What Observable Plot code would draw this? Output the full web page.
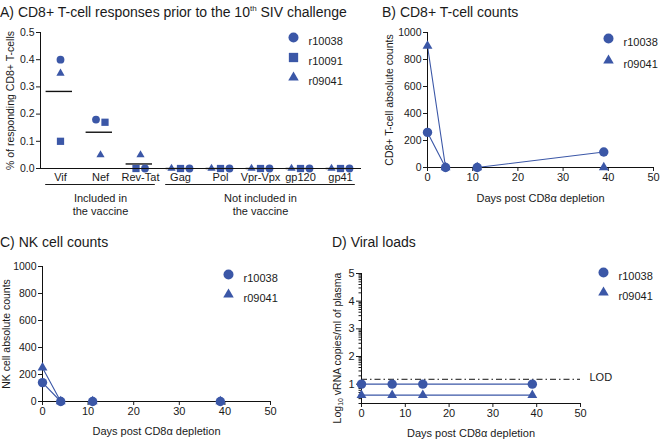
<!DOCTYPE html>
<html><head><meta charset="utf-8">
<script src="https://cdn.jsdelivr.net/npm/d3@7"></script>
<script src="https://cdn.jsdelivr.net/npm/@observablehq/plot@0.6"></script>
<style>
body{margin:0;background:#fff;font-family:"Liberation Sans",Arial,sans-serif;}
#root{position:relative;width:660px;height:440px;overflow:hidden;background:#fff;}
.title{position:absolute;font-size:14px;color:#1a1a1a;white-space:nowrap;line-height:16px;}
.title sup{font-size:8px;line-height:0;}
.panel{position:absolute;}
</style></head><body>
<div id="root">
  <div class="title" style="left:0;top:4px">A) CD8+ T-cell responses prior to the 10<sup>th</sup> SIV challenge</div>
  <div class="title" style="left:382px;top:4px">B) CD8+ T-cell counts</div>
  <div class="title" style="left:0;top:234px">C) NK cell counts</div>
  <div class="title" style="left:332px;top:234px">D) Viral loads</div>
  <div class="panel" id="pA" style="left:0;top:20px"></div>
  <div class="panel" id="pB" style="left:365px;top:20px"></div>
  <div class="panel" id="pC" style="left:0;top:250px"></div>
  <div class="panel" id="pD" style="left:330px;top:250px"></div>
</div>
<script>
// ---------- data ----------
const BLUE = "#3b57a7";
const animalsA = ["r10038", "r10091", "r09041"];
const antigens = ["Vif", "Nef", "Rev-Tat", "Gag", "Pol", "Vpr-Vpx", "gp120", "gp41"];
const respR10038 = [0.40, 0.18, 0.00, 0, 0, 0, 0, 0];
const respR10091 = [0.10, 0.17, 0.00, 0, 0, 0, 0, 0];
const respR09041 = [0.35, 0.05, 0.05, 0, 0, 0, 0, 0];
const groupLabels = ["Included in\nthe vaccine", "Not included in\nthe vaccine"];
const groupFrom = [0, 3];
const groupTo = [2, 7];

const animalsBC = ["r10038", "r09041"];
const countDays = [0, 4, 11, 39];
const cd8R10038 = [260, 0, 0, 115];
const cd8R09041 = [900, 0, 0, 0];
const nkR10038 = [140, 0, 0, 0];
const nkR09041 = [250, 0, 0, 0];

const vlDays = [0, 7, 14, 39];
const vlR10038 = [10, 10, 10, 10];
const vlR09041 = [4, 4, 4, 4];
const LOD = 15;

// ---------- shared ----------
const FONT = "Liberation Sans, Arial, sans-serif";
const style = {fontFamily: FONT, fontSize: "11px", color: "#1a1a1a", background: "transparent", overflow: "visible"};
const symbolOf = {r10038: "circle", r10091: "square", r09041: "triangle"};
const sizeOf = {circle: 1, square: 1.05, triangle: 0.78};
const drawOrder = ["r09041", "r10091", "r10038"];

function dots(rows, x, y, r) {
  return drawOrder.filter(a => rows.some(d => d.animal === a)).map(a =>
    Plot.dot(rows.filter(d => d.animal === a), {x, y, symbol: symbolOf[a], fill: BLUE, r: r * sizeOf[symbolOf[a]]}));
}
function legend(names, dx, dy, gap) {
  return names.flatMap((n, k) => [
    Plot.dot([n], {frameAnchor: "top-left", dx, dy: dy + k * gap, symbol: symbolOf[n], fill: BLUE, r: 5 * sizeOf[symbolOf[n]]}),
    Plot.text([n], {frameAnchor: "top-left", dx: dx + 15, dy: dy + k * gap, text: d => d, textAnchor: "start", fontSize: 11})
  ]);
}

// ---------- Panel A ----------
const seriesA = [respR10038, respR10091, respR09041];
const rowsA = [];
antigens.forEach((a, i) => animalsA.forEach((an, s) => rowsA.push({i, antigen: a, animal: an, value: seriesA[s][i]})));
const SPREAD = 0.225;
d3.group(rowsA, d => d.i).forEach(pts => {
  pts.sort((a, b) => b.value - a.value || drawOrder.indexOf(a.animal) - drawOrder.indexOf(b.animal));
  const clusters = [];
  for (const p of pts) {
    const c = clusters.find(c => Math.abs(c[0].value - p.value) < 0.025);
    if (c) c.push(p); else clusters.push([p]);
  }
  clusters.forEach(c => c.forEach((p, k) => p.pos = p.i + (k - (c.length - 1) / 2) * SPREAD));
});
const meansA = antigens.map((a, i) => ({i, mean: d3.mean(seriesA, s => s[i])}));
const groupsA = groupLabels.map((label, k) => ({label, from: groupFrom[k], to: groupTo[k]}));

const plotA = Plot.plot({
  width: 365, height: 200,
  marginLeft: 40, marginRight: 5, marginTop: 12, marginBottom: 52,
  style,
  x: {domain: [-0.5, 7.5]},
  y: {domain: [0, 0.5]},
  marks: [
    Plot.axisY({ticks: [0, 0.1, 0.2, 0.3, 0.4, 0.5], tickFormat: ".1f", tickSize: 4, tickPadding: 2,
      label: "% of responding CD8+ T-cells", labelAnchor: "center", labelArrow: "none", labelOffset: 34, fontSize: 10.5}),
    Plot.axisX({ticks: d3.range(antigens.length), tickFormat: i => antigens[i], tickSize: 0, tickPadding: 5, label: null}),
    Plot.ruleY(groupsA, {y: () => 0, x1: d => d.from - 0.37, x2: d => d.to + 0.37, dy: 16, stroke: "#1a1a1a", strokeWidth: 1}),
    Plot.text(groupsA, {x: d => (d.from + d.to) / 2, y: () => 0, text: "label", dy: 35.5, lineHeight: 1.2, fontSize: 11}),
    Plot.ruleY(meansA, {y: "mean", x1: d => d.i - 0.36, x2: d => d.i + 0.3, stroke: "#111", strokeWidth: 1.4}),
    ...dots(rowsA, "pos", "value", 3.9),
    Plot.frame({anchor: "left", stroke: "#111"}),
    Plot.frame({anchor: "bottom", stroke: "#111"}),
    ...legend(animalsA, 253, 5, 20)
  ]
});
document.getElementById("pA").append(plotA);

// ---------- Panels B & C ----------
function countRows(a, b, days) {
  return [
    ...days.map((d, k) => ({day: d, value: b[k], animal: "r09041"})),
    ...days.map((d, k) => ({day: d, value: a[k], animal: "r10038"}))
  ];
}
function countPlot({rows, width, height, ml, mr, mt, mb, ylabel, ylabelOffset, xlabelOffset, leg}) {
  return Plot.plot({
    width, height, marginLeft: ml, marginRight: mr, marginTop: mt, marginBottom: mb,
    style,
    x: {domain: [0, 50]},
    y: {domain: [0, 1000]},
    marks: [
      Plot.axisY({ticks: d3.range(0, 1001, 200), tickFormat: d => String(d), tickSize: 4, tickPadding: 2, label: ylabel,
        labelAnchor: "center", labelArrow: "none", labelOffset: ylabelOffset, fontSize: 10.5}),
      Plot.axisX({ticks: d3.range(0, 51, 10), tickSize: 4, tickPadding: 2, label: "Days post CD8\u03b1 depletion",
        labelAnchor: "center", labelArrow: "none", labelOffset: xlabelOffset}),
      Plot.line(rows, {x: "day", y: "value", z: "animal", stroke: BLUE, strokeWidth: 1.1}),
      Plot.frame({anchor: "left", stroke: "#111"}),
      Plot.frame({anchor: "bottom", stroke: "#111"}),
      ...dots(rows, "day", "value", 4.7),
      ...legend(animalsBC, leg[0], leg[1], leg[2])
    ]
  });
}
document.getElementById("pB").append(countPlot({
  rows: countRows(cd8R10038, cd8R09041, countDays),
  width: 295, height: 200, ml: 62, mr: 7, mt: 12, mb: 53,
  ylabel: "CD8+ T-cell absolute counts", ylabelOffset: 42, xlabelOffset: 34, leg: [181, 6, 22]
}));
document.getElementById("pC").append(countPlot({
  rows: countRows(nkR10038, nkR09041, countDays),
  width: 330, height: 190, ml: 42, mr: 60, mt: 16, mb: 39,
  ylabel: "NK cell absolute counts", ylabelOffset: 40, xlabelOffset: 33, leg: [186, 8, 20]
}));

// ---------- Panel D ----------
const rowsD = [
  ...vlDays.map((d, k) => ({day: d, value: vlR09041[k], animal: "r09041"})),
  ...vlDays.map((d, k) => ({day: d, value: vlR10038[k], animal: "r10038"}))
];
const majorD = [10, 100, 1000, 10000, 100000];
const minorD = [];
for (let e = 0; e < 5; e++) for (let m = 2; m <= 9; m++) { const v = m * 10 ** e; if (v >= 2 && v <= 100000) minorD.push(v); }
const plotD = Plot.plot({
  width: 330, height: 190, marginLeft: 31, marginRight: 80, marginTop: 23, marginBottom: 37,
  style,
  x: {domain: [0, 50]},
  y: {type: "log", domain: [2, 100000]},
  marks: [
    Plot.axisY(minorD, {tickSize: 2.5, tickFormat: () => "", label: null}),
    Plot.axisY(majorD, {tickSize: 5, tickPadding: 2, tickFormat: d => String(Math.round(Math.log10(d))), label: null}),
    Plot.axisX({ticks: d3.range(0, 51, 10), tickSize: 4, tickPadding: 2, label: "Days post CD8\u03b1 depletion",
      labelAnchor: "center", labelArrow: "none", labelOffset: 33}),
    Plot.ruleY([LOD], {stroke: "#111", strokeWidth: 1, strokeDasharray: "6,3,1.5,3"}),
    Plot.text([LOD], {y: d => d, frameAnchor: "right", text: () => "LOD", textAnchor: "start", dx: 9, dy: -2}),
    Plot.line(rowsD, {x: "day", y: "value", z: "animal", stroke: BLUE, strokeWidth: 1.1}),
    Plot.frame({anchor: "left", stroke: "#111"}),
    Plot.frame({anchor: "bottom", stroke: "#111"}),
    ...dots(rowsD, "day", "value", 4.7),
    ...legend(animalsBC, 242, -1, 20)
  ]
});
const yl = d3.select(plotD).append("text")
  .attr("transform", "translate(8,98) rotate(-90)")
  .attr("text-anchor", "middle").attr("dominant-baseline", "middle")
  .attr("font-size", 10.5).attr("fill", "#1a1a1a");
yl.append("tspan").text("Log");
yl.append("tspan").attr("font-size", 7).attr("dy", 3).text("10");
yl.append("tspan").attr("dy", -3).text(" vRNA copies/ml of plasma");
document.getElementById("pD").append(plotD);
</script>
</body></html>
